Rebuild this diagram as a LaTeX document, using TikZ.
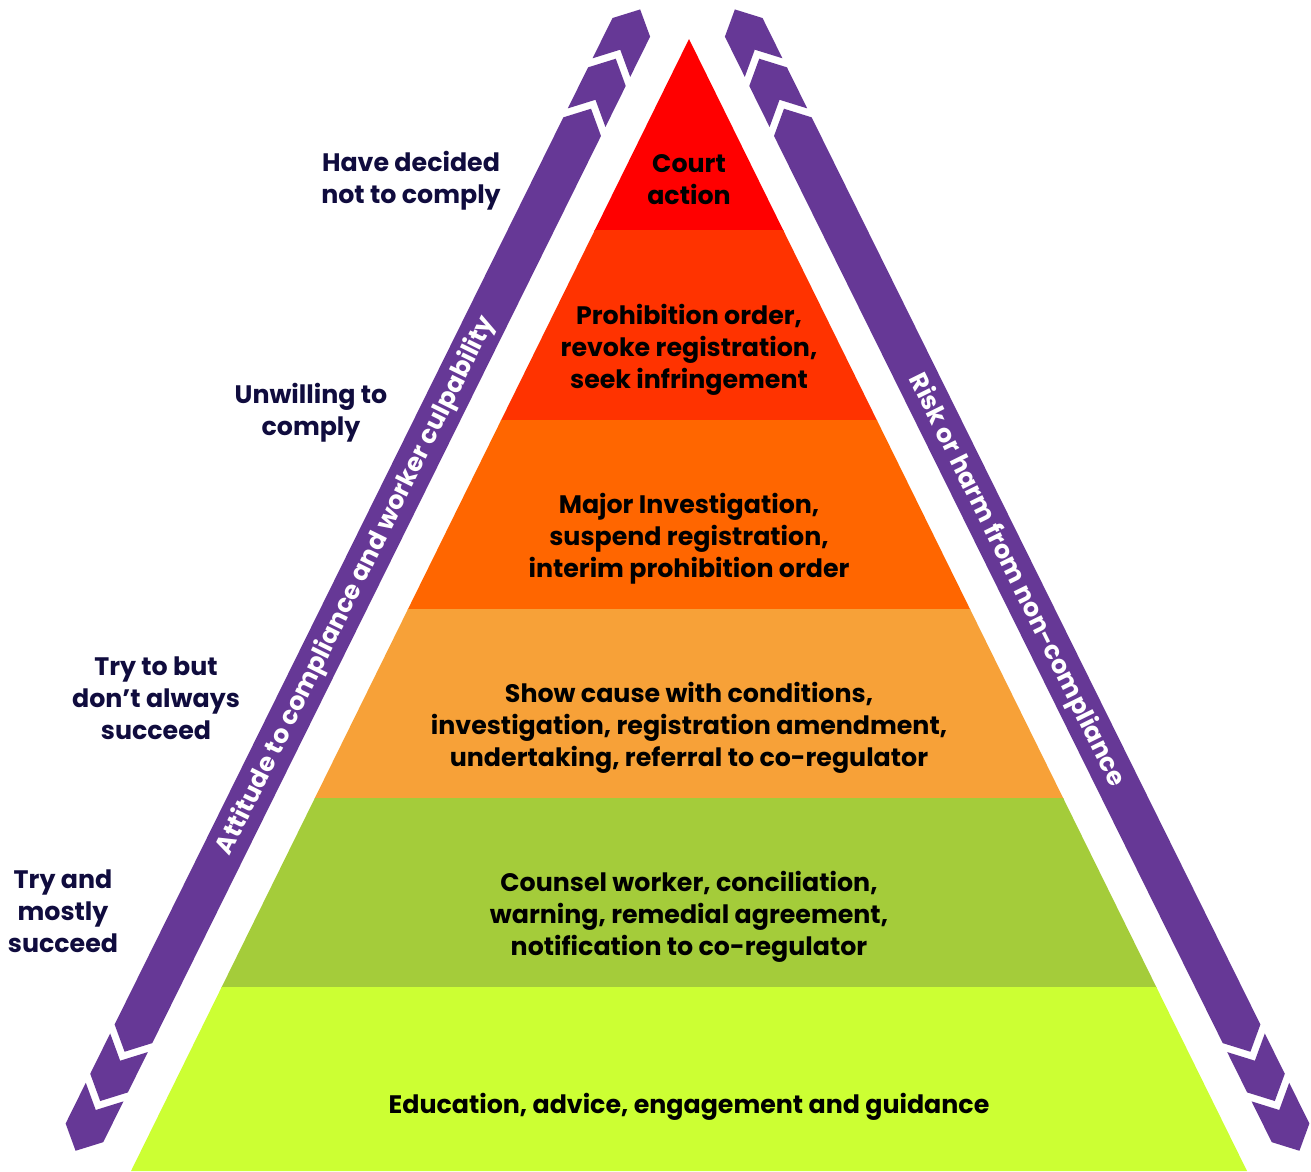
\documentclass[tikz,border=0pt]{standalone}
\usepackage{fontspec}
\setmainfont{Poppins}
\definecolor{purp}{RGB}{102,56,150}
\definecolor{navy}{RGB}{16,12,62}
\definecolor{lvA}{RGB}{255,0,0}
\definecolor{lvB}{RGB}{255,51,0}
\definecolor{lvC}{RGB}{255,102,0}
\definecolor{lvD}{RGB}{247,161,56}
\definecolor{lvE}{RGB}{164,204,58}
\definecolor{lvF}{RGB}{204,255,51}
\tikzset{%
	lvl/.style={align=center, inner sep=0pt, text=black,%
		font=\fontsize{14.4}{18.1}\selectfont\bfseries},
	side/.style={lvl, text=navy},
	chev/.style={fill=purp},
	striptext/.style={inner sep=0pt, text=white,%
		font=\fontsize{14.4}{18.1}\selectfont\bfseries}
}
% one purple strip: two chevrons, long body, two chevrons
\newcommand\stripshape{%
	\foreach \a/\b in {154.6/200.4, 210.5/255.4}
		\fill[chev] (\a,557) -- (\b,557) -- (\b+20,578) -- (\b,599) -- (\a,599) -- (\a+20,578) -- cycle;
	\fill[chev] (-867.5,557) -- (144.6,557) -- (164.6,578) -- (144.6,599) -- (-867.5,599) -- (-887.5,578) -- cycle;
	\foreach \a/\b in {-922.5/-877.5, -978/-932.5}
		\fill[chev] (\a,557) -- (\a-20,578) -- (\a,599) -- (\b,599) -- (\b-20,578) -- (\b,557) -- cycle;
}

\begin{document}
\begin{tikzpicture}[x=0.02cm, y=-0.02cm]
	\useasboundingbox (0,0) rectangle (1311,1171);

	\coordinate (apex) at (689,39);
	\coordinate (bl)   at (131,1171);
	\coordinate (br)   at (1247,1171);
	\begin{scope}
		\clip (apex) -- (bl) -- (br) -- cycle;
		\foreach \c/\ya/\yb in {lvA/0/230, lvB/230/420, lvC/420/609, lvD/609/798, lvE/798/987, lvF/987/1171}
			\fill[\c] (0,\ya) rectangle (1311,\yb+1);
	\end{scope}

	\node[lvl] (court)  at (689,180)  {Court\\action};
	\node[lvl] (prohib) at (689,350)  {Prohibition order,\\revoke registration,\\seek infringement};
	\node[lvl] (major)  at (689,539)  {Major Investigation,\\suspend registration,\\interim prohibition order};
	\node[lvl] (cause)  at (689,728)  {Show cause with conditions,\\investigation, registration amendment,\\undertaking, referral to co-regulator};
	\node[lvl] (counsel) at (689,917) {Counsel worker, conciliation,\\warning, remedial agreement,\\notification to co-regulator};
	\node[lvl] (edu)    at (689,1107) {Education, advice, engagement and guidance};

	\begin{scope}[rotate=63.68]
		\stripshape
		\node[striptext, rotate=63.68] (attitude) at (-367,579) {Attitude to compliance and worker culpability};
	\end{scope}
	\begin{scope}[shift={(1375,0)}, xscale=-1]
		\begin{scope}[rotate=63.68]
			\stripshape
			\node[striptext, rotate=-63.68] (risk) at (-361,579) {Risk or harm from non-compliance};
		\end{scope}
	\end{scope}

	\node[side] (decided)   at (411,181) {Have decided\\not to comply};
	\node[side] (unwilling) at (311,413) {Unwilling to\\comply};
	\node[side] (trybut)    at (156,698) {Try to but\\don’t always\\succeed};
	\node[side] (mostly)    at (63,911)  {Try and\\mostly\\succeed};
\end{tikzpicture}
\end{document}
